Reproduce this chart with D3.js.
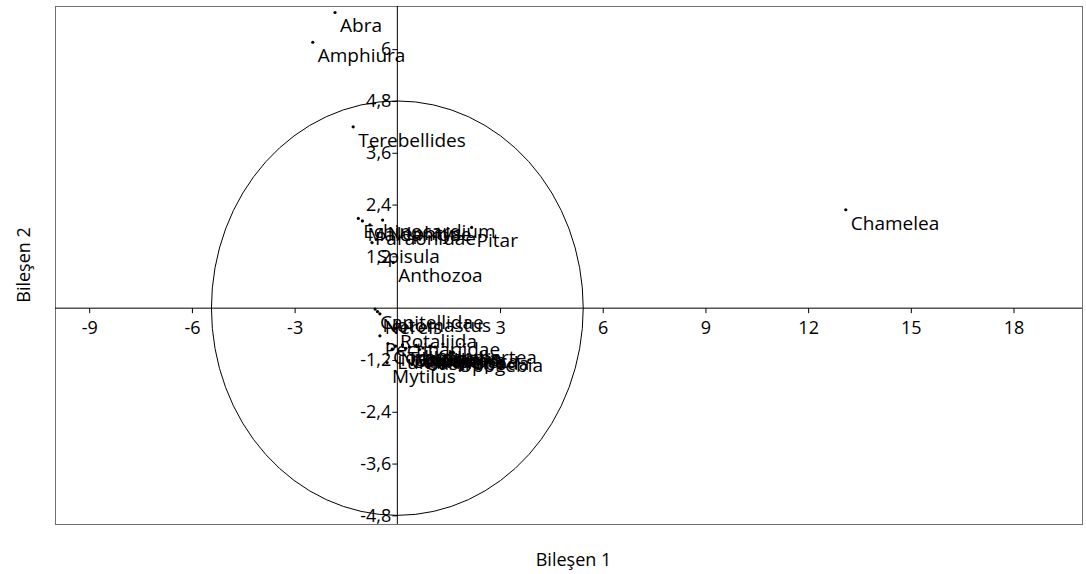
<!DOCTYPE html>
<html>
<head>
<meta charset="utf-8">
<script src="https://d3js.org/d3.v7.min.js"></script>
<style>
  body { margin: 0; background: #fff; }
  text { font-family: "Open Sans", "Noto Sans", sans-serif; fill: #000; }
</style>
</head>
<body>
<div class="chart"></div>
<script>
// species names and their scores on the two components
var species = [
  "Abra", "Amphiura", "Terebellides", "Chamelea",
  "Echinocardium", "Maldanidae", "Paraonidae", "Nephtys", "Pitar", "Spisula", "Anthozoa",
  "Capitellidae", "Notomastus", "Nereis", "Rotaliida", "Pectinariidae",
  "Corbula", "Nucula", "Tellina", "Mysella", "Lucinella", "Ampelisca", "Owenia", "Glycera",
  "Lumbrineris", "Cumacea", "Gastropoda",
  "Nemertea", "Upogebia", "Mytilus"
];
var comp1 = [
  -1.82, -2.47, -1.29, 13.10,
  -1.14, -1.02, -0.80, -0.43, 2.17, -0.74, -0.12,
  -0.65, -0.58, -0.51, -0.07, -0.51,
  -0.27, -0.05, 0.15, 0.35, 0.55, 0.75, 0.95, 1.10,
  -0.15, 0.25, 0.65,
  1.33, 1.63, -0.30
];
var comp2 = [
  6.85, 6.16, 4.20, 2.28,
  2.08, 2.02, 1.93, 2.04, 1.87, 1.52, 1.06,
  -0.02, -0.08, -0.13, -0.47, -0.64,
  -0.82, -0.88, -0.85, -0.90, -0.86, -0.92, -0.88, -0.90,
  -0.95, -0.93, -0.96,
  -0.83, -1.02, -1.26
];

// tick values
var xTicks = [-9, -6, -3, 3, 6, 9, 12, 15, 18];
var yTicks = [-4.8, -3.6, -2.4, -1.2, 1.2, 2.4, 3.6, 4.8, 6];

// radii of the circle drawn round the origin
var circleRx = 5.43;
var circleRy = 4.8;

var svgWidth = 1086;
var svgHeight = 574;

var plot = { left: 55, right: 1082, top: 6, bottom: 524 };

var svg = d3.select(".chart")
  .append("svg")
  .attr("width", svgWidth)
  .attr("height", svgHeight);

var xScale = d3.scaleLinear()
  .domain([-10, 20])
  .range([plot.left, plot.right]);

var yScale = d3.scaleLinear()
  .domain([-5, 7])
  .range([plot.bottom, plot.top]);

var fmt = function(d) { return String(d).replace(".", ","); };

// frame
svg.append("rect")
  .attr("x", plot.left + 0.5)
  .attr("y", plot.top + 0.5)
  .attr("width", plot.right - plot.left)
  .attr("height", plot.bottom - plot.top)
  .attr("fill", "none")
  .attr("stroke", "#707070")
  .attr("stroke-width", 1);

// circle round the origin
svg.append("ellipse")
  .attr("cx", xScale(0))
  .attr("cy", yScale(0))
  .attr("rx", xScale(circleRx) - xScale(0))
  .attr("ry", yScale(0) - yScale(circleRy))
  .attr("fill", "none")
  .attr("stroke", "#000")
  .attr("stroke-width", 1);

// x axis through y = 0
var bottomAxis = d3.axisBottom(xScale)
  .tickValues(xTicks)
  .tickFormat(fmt)
  .tickSize(5)
  .tickPadding(8)
  .tickSizeOuter(0);

var xAxis = svg.append("g")
  .attr("transform", `translate(0, ${yScale(0)})`)
  .call(bottomAxis);

// y axis through x = 0
var leftAxis = d3.axisLeft(yScale)
  .tickValues(yTicks)
  .tickFormat(fmt)
  .tickSize(5)
  .tickPadding(1)
  .tickSizeOuter(0);

var yAxis = svg.append("g")
  .attr("transform", `translate(${xScale(0)}, 0)`)
  .call(leftAxis);

[xAxis, yAxis].forEach(function(ax) {
  ax.select(".domain").remove();
  ax.selectAll("line").attr("stroke", "#000");
  ax.selectAll("text")
    .style("font-family", "'Open Sans', sans-serif")
    .style("font-size", "18px")
    .attr("fill", "#000");
});

// axis lines across the whole frame
svg.append("line")
  .attr("x1", plot.left).attr("x2", plot.right)
  .attr("y1", yScale(0)).attr("y2", yScale(0))
  .attr("stroke", "#000");
svg.append("line")
  .attr("x1", xScale(0)).attr("x2", xScale(0))
  .attr("y1", plot.top).attr("y2", plot.bottom)
  .attr("stroke", "#000");

var points = species.map(function(s, i) {
  return { name: s, x: comp1[i], y: comp2[i] };
});

// points
svg.append("g")
  .selectAll("circle")
  .data(points)
  .enter()
  .append("circle")
  .attr("cx", d => xScale(d.x))
  .attr("cy", d => yScale(d.y))
  .attr("r", 1.6)
  .attr("fill", "#000");

// labels, right of and below each point
svg.append("g")
  .selectAll("text")
  .data(points)
  .enter()
  .append("text")
  .attr("x", d => xScale(d.x) + 5)
  .attr("y", d => yScale(d.y) + 20)
  .style("font-size", "19px")
  .text(d => d.name);

// axis titles
svg.append("text")
  .attr("x", (plot.left + plot.right) / 2 + 5)
  .attr("y", 566)
  .attr("text-anchor", "middle")
  .style("font-size", "18px")
  .text("Bileşen 1");

svg.append("text")
  .attr("transform", `translate(30, ${(plot.top + plot.bottom) / 2}) rotate(-90)`)
  .attr("text-anchor", "middle")
  .style("font-size", "18px")
  .text("Bileşen 2");
</script>
</body>
</html>
